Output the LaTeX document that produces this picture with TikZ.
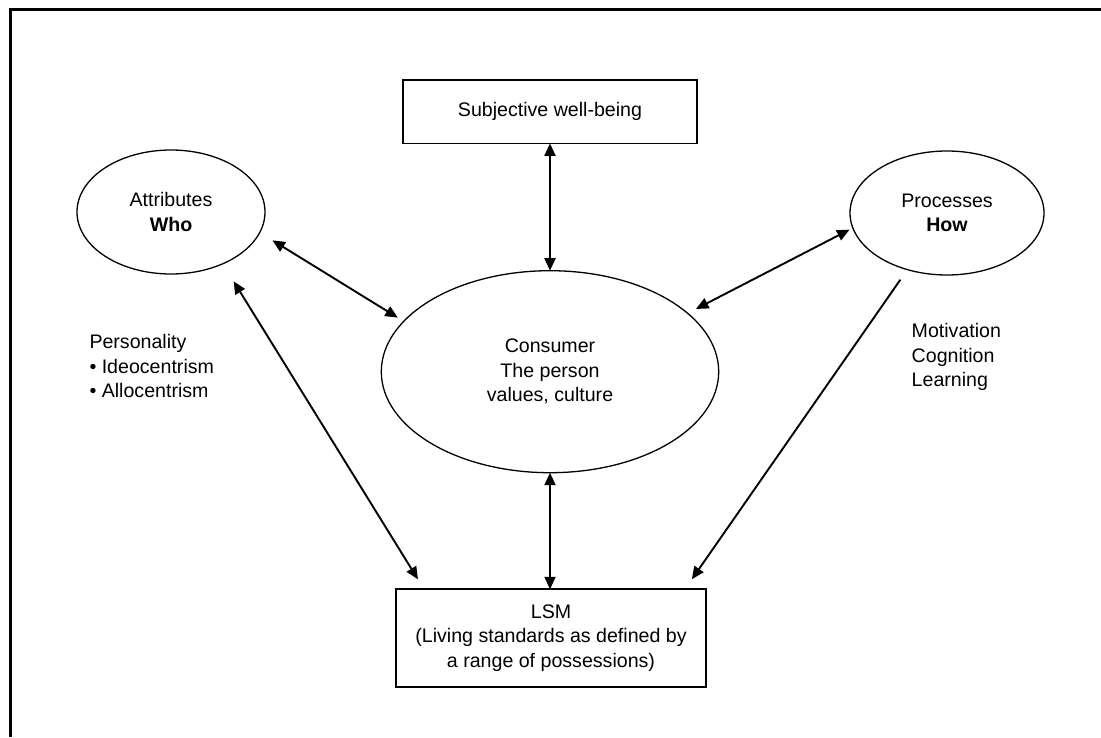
\documentclass[tikz,border=0pt]{standalone}
\usepackage{fontspec}
\setmainfont{Liberation Sans}
\usetikzlibrary{shapes.geometric,arrows.meta}
\begin{document}
\begin{tikzpicture}[x=1pt,y=-1pt,
  lbl/.style={font=\fontsize{19.6}{24.5}\selectfont},
  ell/.style={ellipse,draw,line width=1.3pt,inner sep=0pt,outer sep=0pt,align=center,lbl},
  box/.style={rectangle,draw,line width=1.7pt,inner sep=0pt,outer sep=0pt,align=center,lbl},
  txt/.style={inner sep=0pt,outer sep=0pt,align=left,anchor=north west,lbl},
  link/.style={line width=1.9pt,{Triangle[length=12.5pt,width=11pt]}-{Triangle[length=12.5pt,width=11pt]}},
  oneway/.style={line width=1.9pt,-{Triangle[length=12.5pt,width=11pt]}}]
\useasboundingbox (0,0) rectangle (1101,737);
\fill[white] (0,0) rectangle (1101,737);
\draw[line width=3pt] (10.5,737) -- (10.5,9) -- (1101,9);

\node[box,minimum width=294pt,minimum height=63.3pt] (swb) at (550,111.7) {Subjective well-being};
\node[ell,minimum width=188pt,minimum height=124pt] (attr) at (171,212) {Attributes\\\textbf{Who}};
\node[ell,minimum width=194pt,minimum height=124pt] (proc) at (947,213) {Processes\\\textbf{How}};
\node[ell,minimum width=337.4pt,minimum height=202pt] (cons) at (550,371.7) {Consumer\\The person\\values, culture};
\node[box,minimum width=310pt,minimum height=97.4pt] (lsm) at (551,638) {LSM\\(Living standards as defined by\\a range of possessions)};
\node[txt] (pers) at (89.5,334.5) {Personality\\\textbullet{} Ideocentrism\\\textbullet{} Allocentrism};
\node[txt] (motv) at (911.7,323.5) {Motivation\\Cognition\\Learning};

\draw[link,shorten <=15pt,shorten >=7pt] (attr.-13.9) -- (cons.161.6);
\draw[link,shorten <=3.7pt,shorten >=9.4pt] (proc.189.7) -- (cons.23);
\draw[link,shorten <=20.6pt,shorten >=11.7pt] (attr.-45.7) -- (lsm.159.4);
\draw[oneway,shorten <=12.3pt,shorten >=12.3pt] (proc.-125.8) -- (lsm.20.8);
\draw[link] (swb.south) -- (cons.north);
\draw[link] (cons.south) -- (cons.south |- lsm.north);
\end{tikzpicture}
\end{document}
